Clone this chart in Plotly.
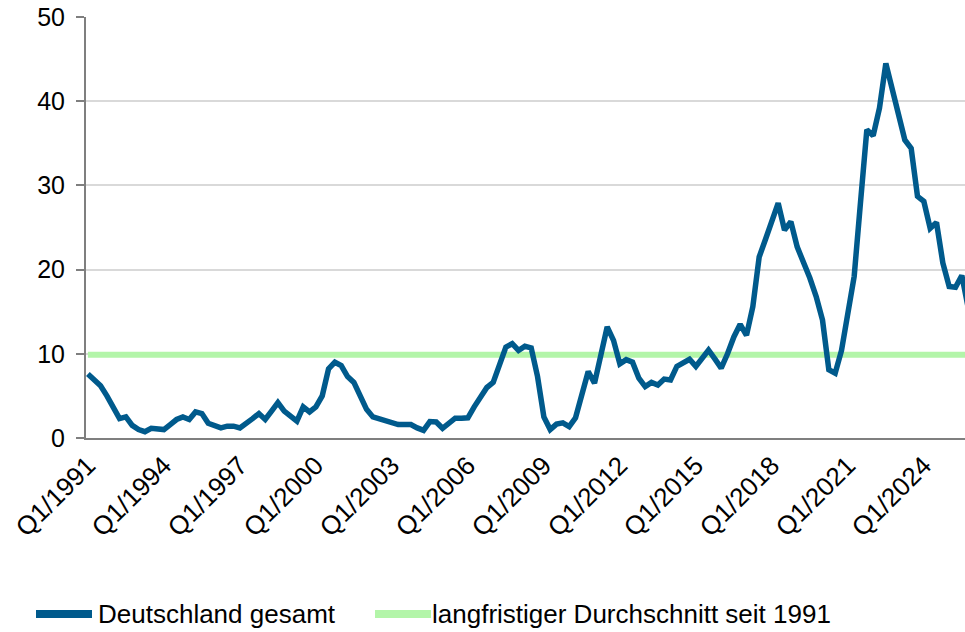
import plotly.graph_objects as go

# Quarterly values Q1/1991 ... Q4/2025 (index 0..139)
values = [
    7.6, 6.8, 6.2, 5.0, 3.7, 2.3, 2.5, 1.5, 1.0, 0.75,
    1.15, 1.0, 1.0, 1.6, 2.2, 2.5, 2.2, 3.1, 2.9, 1.75,
    1.5, 1.2, 1.4, 1.4, 1.2, 1.7, 2.3, 2.9, 2.2, 3.2,
    4.2, 3.2, 2.5, 2.0, 3.7, 3.1, 3.7, 5.0, 8.2, 9.0,
    8.6, 7.3, 6.6, 4.8, 3.4, 2.5, 2.3, 2.0, 1.8, 1.6,
    1.6, 1.6, 1.2, 0.9, 1.95, 1.9, 1.15, 1.7, 2.35, 2.35,
    2.4, 3.7, 5.0, 6.0, 6.6, 8.5, 10.8, 11.2, 10.4, 10.9,
    10.7, 7.3, 2.5, 1.0, 1.65, 1.8, 1.35, 2.4, 5.2, 7.9,
    6.5, 9.6, 13.2, 11.6, 8.8, 9.3, 9.0, 7.1, 6.1, 6.6,
    6.3, 7.0, 6.9, 8.5, 9.0, 9.35, 8.5, 9.5, 10.45, 9.4,
    8.3, 10.0, 12.0, 13.5, 12.2, 15.6, 21.5, 23.6, 25.8, 27.9,
    24.7, 25.7, 22.7, 20.9, 19.0, 16.8, 14.0, 8.1, 7.7, 10.4,
    14.8, 19.2, 28.0, 36.6, 35.9, 39.2, 44.5, 41.5, 38.4, 35.4,
    34.4, 28.7, 28.1, 24.9, 25.6, 20.8, 18.0, 17.9, 19.3, 15.5,
]
average_value = 9.9

start_year = 1991
quarters = [f"Q{i % 4 + 1}/{start_year + i // 4}" for i in range(len(values))]
tick_labels = ["Q1/1991", "Q1/1994", "Q1/1997", "Q1/2000", "Q1/2003", "Q1/2006",
               "Q1/2009", "Q1/2012", "Q1/2015", "Q1/2018", "Q1/2021", "Q1/2024"]

series_name = "Deutschland gesamt"
avg_name = "langfristiger Durchschnitt seit 1991"

BLUE = "#005A8C"
GREEN = "#B3F5A9"
FONT = "Liberation Sans, Arial, sans-serif"

fig = go.Figure()
fig.add_trace(go.Scatter(
    x=quarters, y=[average_value] * len(quarters), mode="lines", name=avg_name,
    line=dict(color=GREEN, width=6), showlegend=False,
))
fig.add_trace(go.Scatter(
    x=quarters, y=values, mode="lines", name=series_name,
    line=dict(color=BLUE, width=5.5), showlegend=False,
))

# Figure-pixel layout of the plot area
FIG_W, FIG_H = 965, 632
L, R, T, B = 86, 965, 17, 438
W, H = R - L, B - T
def px(x):
    return (x - L) / W
def py(y):
    return (B - y) / H

legend_y = py(614)
legend_items = [(series_name, BLUE, 36, 92, 96), (avg_name, GREEN, 375, 431, 430)]
for name, color, x0, x1, xt in legend_items:
    fig.add_shape(type="line", xref="paper", yref="paper",
                  x0=px(x0), x1=px(x1), y0=legend_y, y1=legend_y,
                  line=dict(color=color, width=8))
    fig.add_annotation(xref="paper", yref="paper", x=px(xt), y=legend_y,
                       text=name, showarrow=False, xanchor="left", yanchor="middle",
                       font=dict(size=26, family=FONT, color="black"))

fig.update_layout(
    width=FIG_W, height=FIG_H,
    margin=dict(l=L, r=FIG_W - R, t=T, b=FIG_H - B, autoexpand=False),
    paper_bgcolor="white", plot_bgcolor="white",
    font=dict(family=FONT, size=24, color="black"),
    showlegend=False,
)
fig.update_xaxes(
    type="category", categoryorder="array", categoryarray=quarters,
    range=[-0.3, 138.5], automargin=False,
    tickmode="array", tickvals=tick_labels, ticktext=tick_labels,
    tickangle=-45, tickfont=dict(size=26, family=FONT),
    showline=True, linecolor="#7f7f7f", linewidth=2,
    showgrid=False, ticks="", zeroline=False, ticklabeloverflow="allow",
)
fig.update_yaxes(
    range=[0, 50], tickvals=[0, 10, 20, 30, 40, 50], automargin=False,
    tickfont=dict(size=25, family=FONT),
    showline=True, linecolor="#7f7f7f", linewidth=2,
    ticks="outside", ticklen=8, tickcolor="#7f7f7f", tickwidth=2,
    showgrid=True, gridcolor="#d9d9d9", gridwidth=2,
    zeroline=False, ticklabelstandoff=6, ticklabeloverflow="allow",
)

fig.write_html(
    "out.html",
    config={"displayModeBar": False},
    post_script="document.body.style.margin='0';"
                "document.documentElement.style.overflow='hidden';",
)
